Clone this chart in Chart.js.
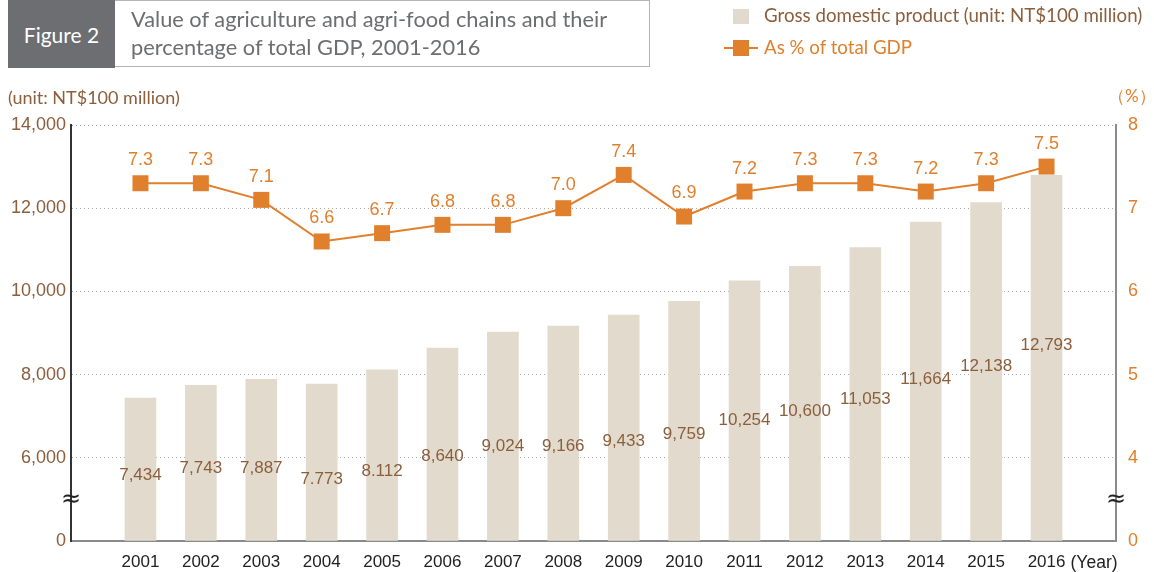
<!DOCTYPE html>
<html>
<head>
<meta charset="utf-8">
<script src="https://cdn.jsdelivr.net/npm/chart.js@4/dist/chart.umd.min.js"></script>
<style>
  html, body { margin: 0; padding: 0; background: #fff; }
  #wrap { position: relative; width: 1154px; height: 572px; overflow: hidden; }
  #chart { position: absolute; left: 0; top: 0; }
  .abs { position: absolute; white-space: nowrap; }
  #figbox { left: 8px; top: 0; width: 107px; height: 68px; background: #6d6e71; color: #fff;
    font: 21px Lato, "Noto Sans", sans-serif; display: flex; align-items: center; justify-content: center; }
  #titlebox { left: 115px; top: 0; width: 535px; height: 67px; border: 1px solid #b5b5b5; border-left: none; box-sizing: border-box; }
  #title { left: 131px; top: 5px; color: #6d6e71; font: 21.8px/28px Lato, "Noto Sans", sans-serif; }
  .legtxt { font: 18.7px Lato, "Noto Sans", sans-serif; }
  #unit { left: 8px; top: 86px; color: #8b5e3c; font: 18px Lato, "Noto Sans", sans-serif; }
  #pct { left: 1108px; top: 85px; color: #e07f2c; font: 17px Lato, "Noto Sans", sans-serif; }
</style>
</head>
<body>
<div id="wrap">
  <canvas id="chart" width="1154" height="572"></canvas>
  <div id="figbox" class="abs">Figure 2</div>
  <div id="titlebox" class="abs"></div>
  <div id="title" class="abs">Value of agriculture and agri-food chains and their<br>percentage of total GDP, 2001-2016</div>
  <div class="abs" style="left:733px;top:9px;width:16px;height:15px;background:#e2dbcd;"></div>
  <div class="abs legtxt" style="left:764px;top:4px;color:#8b5e3c;">Gross domestic product (unit: NT$100 million)</div>
  <div class="abs" style="left:724px;top:47px;width:34px;height:2px;background:#e07f2c;"></div>
  <div class="abs" style="left:733px;top:40px;width:16px;height:16px;background:#e07f2c;"></div>
  <div class="abs legtxt" style="left:764px;top:36px;color:#e07f2c;">As % of total GDP</div>
  <div id="unit" class="abs">(unit: NT$100 million)</div>
  <div id="pct" class="abs">（%）</div>
</div>
<script>
const years = [2001, 2002, 2003, 2004, 2005, 2006, 2007, 2008, 2009, 2010, 2011, 2012, 2013, 2014, 2015, 2016];
const gdpValues = [7434, 7743, 7887, 7773, 8112, 8640, 9024, 9166, 9433, 9759, 10254, 10600, 11053, 11664, 12138, 12793];
const gdpLabels = ['7,434', '7,743', '7,887', '7.773', '8.112', '8,640', '9,024', '9,166', '9,433', '9,759', '10,254', '10,600', '11,053', '11,664', '12,138', '12,793'];
const pctValues = [7.3, 7.3, 7.1, 6.6, 6.7, 6.8, 6.8, 7.0, 7.4, 6.9, 7.2, 7.3, 7.3, 7.2, 7.3, 7.5];
const leftTicks = [4000, 6000, 8000, 10000, 12000, 14000];
const rightTicks = [3, 4, 5, 6, 7, 8];

const BAR = '#e2dbcd';
const ORANGE = '#e07f2c';
const BROWN = '#8b5e3c';
const NUMFONT = '"Liberation Sans", Arial, sans-serif';

// value labels, the "(Year)" suffix and the axis-break marks
const extras = {
  id: 'extras',
  afterDatasetsDraw(chart) {
    const ctx = chart.ctx;
    const xs = chart.scales.x, ys = chart.scales.y, y1 = chart.scales.y1;
    ctx.save();
    ctx.textAlign = 'center';
    ctx.textBaseline = 'middle';
    ctx.font = '17px ' + NUMFONT;
    ctx.fillStyle = BROWN;
    years.forEach((yr, i) => {
      const top = ys.getPixelForValue(gdpValues[i]);
      ctx.fillText(gdpLabels[i], xs.getPixelForValue(yr), top + 77 + 6.2 * i);
    });
    ctx.font = '18px ' + NUMFONT;
    ctx.fillStyle = ORANGE;
    years.forEach((yr, i) => {
      ctx.fillText(pctValues[i].toFixed(1), xs.getPixelForValue(yr), y1.getPixelForValue(pctValues[i]) - 23);
    });
    ctx.restore();
  },
  afterDraw(chart) {
    const ctx = chart.ctx;
    const xs = chart.scales.x, area = chart.chartArea;
    ctx.save();
    ctx.font = '17.5px ' + NUMFONT;
    ctx.fillStyle = '#222';
    ctx.textAlign = 'left';
    ctx.textBaseline = 'middle';
    ctx.fillText('(Year)', xs.getPixelForValue(2016) + 24, 563);
    ctx.font = '24px "DejaVu Sans", sans-serif';
    ctx.fillStyle = '#222';
    ctx.textAlign = 'center';
    const by = chart.scales.y.getPixelForValue(5000);
    ctx.fillText('≈', area.left, by);
    ctx.fillText('≈', area.right, by);
    ctx.restore();
  }
};

new Chart(document.getElementById('chart'), {
  data: {
    datasets: [
      {
        type: 'line',
        label: 'As % of total GDP',
        data: years.map((x, i) => ({ x: x, y: pctValues[i] })),
        yAxisID: 'y1',
        borderColor: ORANGE,
        borderWidth: 2,
        backgroundColor: ORANGE,
        pointStyle: 'rect',
        pointRadius: 11.3,
        pointBorderWidth: 0,
        order: 0
      },
      {
        type: 'bar',
        label: 'Gross domestic product (unit: NT$100 million)',
        data: years.map((x, i) => ({ x: x, y: gdpValues[i] })),
        yAxisID: 'y',
        backgroundColor: BAR,
        barThickness: 31,
        base: 4000,
        order: 1
      }
    ]
  },
  options: {
    responsive: false,
    animation: false,
    layout: { padding: { top: 125, left: 0, right: 0, bottom: 0 } },
    plugins: { legend: { display: false }, tooltip: { enabled: false } },
    scales: {
      x: {
        type: 'linear',
        offset: false,
        min: 1999.85,
        max: 2017.15,
        afterBuildTicks: s => { s.ticks = years.map(v => ({ value: v })); },
        afterFit: s => { s.height = 31; },
        grid: { display: false, drawTicks: false, offset: false },
        border: { color: '#8a8a8a', width: 2 },
        ticks: {
          autoSkip: false,
          maxRotation: 0,
          padding: 11,
          color: '#222',
          font: { family: NUMFONT, size: 17 },
          callback: v => String(v)
        }
      },
      y: {
        position: 'left',
        min: 4000,
        max: 14000,
        afterBuildTicks: s => { s.ticks = leftTicks.map(v => ({ value: v })); },
        afterFit: s => { s.width = 71; },
        grid: { color: '#a8a8a8', lineWidth: 1, drawTicks: false },
        border: { color: '#333', width: 2, dash: [1, 3] },
        ticks: {
          padding: 5,
          color: BROWN,
          font: { family: NUMFONT, size: 18 },
          callback: v => v === 4000 ? '0' : v.toLocaleString('en-US')
        }
      },
      y1: {
        position: 'right',
        min: 3,
        max: 8,
        afterBuildTicks: s => { s.ticks = rightTicks.map(v => ({ value: v })); },
        afterFit: s => { s.width = 38; },
        grid: { display: false, drawTicks: false },
        border: { color: '#8a8a8a', width: 2 },
        ticks: {
          padding: 12,
          color: ORANGE,
          font: { family: NUMFONT, size: 18 },
          callback: v => v === 3 ? '0' : String(v)
        }
      }
    }
  },
  plugins: [extras]
});
</script>
</body>
</html>
